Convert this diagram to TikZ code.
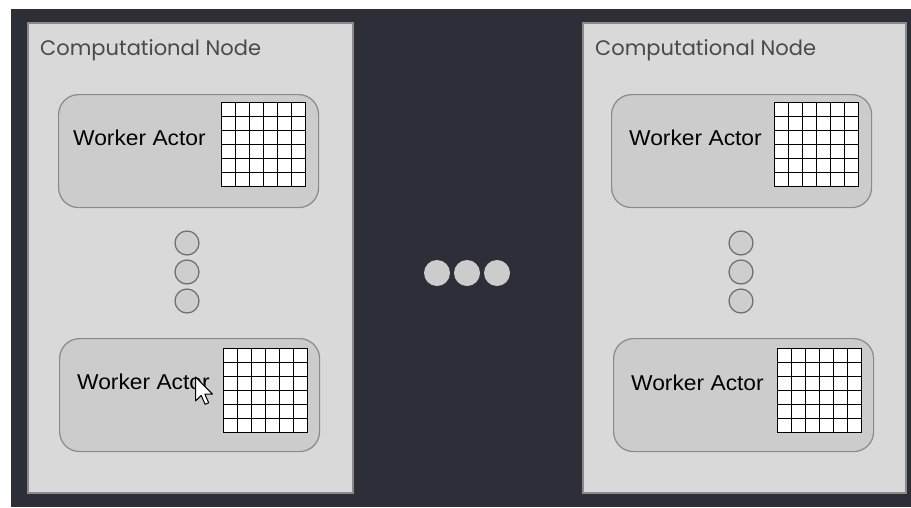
\documentclass[tikz,border=0pt]{standalone}
\usepackage{fontspec}
\setmainfont{Liberation Sans}
\newfontfamily\titlefont{Poppins}
\usetikzlibrary{calc}

\definecolor{bgdark}{HTML}{2C2F38}
\definecolor{panelfill}{HTML}{D9D9D9}
\definecolor{panelline}{HTML}{8A8A8A}
\definecolor{workerfill}{HTML}{CCCCCC}
\definecolor{titlegray}{HTML}{4A4A4A}

\tikzset{
  panel/.style={draw=panelline, line width=1.8pt, fill=panelfill, rectangle,
    inner sep=0pt, anchor=north west},
  worker/.style={draw=panelline, line width=1.2pt, fill=workerfill, rectangle,
    rounded corners=20pt, inner sep=0pt, anchor=north west,
    minimum width=260pt, minimum height=113pt},
  gridbox/.style={draw=black, line width=1.8pt, fill=white, rectangle,
    inner sep=0pt, outer sep=0pt, anchor=north west,
    minimum width=84pt, minimum height=84pt},
  gridline/.style={draw=black, line width=1.7pt},
  title/.style={anchor=base west, inner sep=0pt, text=titlegray,
    font=\titlefont\fontsize{21}{24}\selectfont},
  wlabel/.style={anchor=base west, inner sep=0pt, text=black,
    font=\fontsize{21.5}{24}\selectfont, xscale=1.06},
  smalldot/.style={circle, draw=black!58, line width=1.2pt, fill=panelfill!95!black,
    minimum size=24pt, inner sep=0pt},
  bigdot/.style={circle, fill=workerfill, minimum size=26pt, inner sep=0pt},
}

% a 6x6 grid of 14pt cells inside a named grid box
\newcommand{\cellgrid}[1]{%
  \foreach \k in {1,...,5} {
    \draw[gridline] ($(#1.north west)+(\k*14,0)$) -- ($(#1.south west)+(\k*14,0)$);
    \draw[gridline] ($(#1.north west)+(0,\k*14)$) -- ($(#1.north east)+(0,\k*14)$);
  }
}

\begin{document}
\begin{tikzpicture}[x=1pt, y=-1pt]
  % canvas
  \fill[white] (0,0) rectangle (911,507);
  \useasboundingbox (0,0) rectangle (911,507);
  \fill[bgdark] (11,9) rectangle (911,507);

  % computational nodes
  \node[panel, minimum width=325pt, minimum height=470pt] (cnL) at (27,22) {};
  \node[panel, minimum width=323pt, minimum height=470pt] (cnR) at (582,22) {};
  \node[title] (tL) at (40,55) {Computational Node};
  \node[title] (tR) at (595,55) {Computational Node};

  % worker actors
  \node[worker] (wLa) at (58,94) {};
  \node[worker] (wLb) at (59,338) {};
  \node[worker] (wRa) at (611,94) {};
  \node[worker] (wRb) at (613,338) {};

  \node[wlabel] (lLa) at (73,145) {Worker Actor};
  \node[wlabel] (lLb) at (77,389) {Worker Actor};
  \node[wlabel] (lRa) at (629,145) {Worker Actor};
  \node[wlabel] (lRb) at (631,390) {Worker Actor};

  % state grids
  \node[gridbox] (gLa) at (221.5,102.5) {};
  \node[gridbox] (gLb) at (223.5,348.5) {};
  \node[gridbox] (gRa) at (774.5,102.5) {};
  \node[gridbox] (gRb) at (777.5,348.5) {};
  \cellgrid{gLa}
  \cellgrid{gLb}
  \cellgrid{gRa}
  \cellgrid{gRb}

  % vertical ellipsis inside each node
  \foreach \yy [count=\i] in {243,272,301} {
    \node[smalldot] (dL\i) at (187,\yy) {};
    \node[smalldot] (dR\i) at (741,\yy) {};
  }

  % horizontal ellipsis between nodes
  \node[bigdot] (m1) at (437,273) {};
  \node[bigdot] (m2) at (467,273) {};
  \node[bigdot] (m3) at (497,273) {};

  % mouse pointer
  \begin{scope}[shift={(195.5,377)}, scale=1.5]
    \draw[fill=white, draw=black, line width=1pt, line join=round]
      (0,0) -- (0,16) -- (3.8,12.3) -- (6.4,18.2) -- (8.8,17.2) -- (6.2,11.4) -- (11.3,11.4) -- cycle;
  \end{scope}
\end{tikzpicture}
\end{document}
